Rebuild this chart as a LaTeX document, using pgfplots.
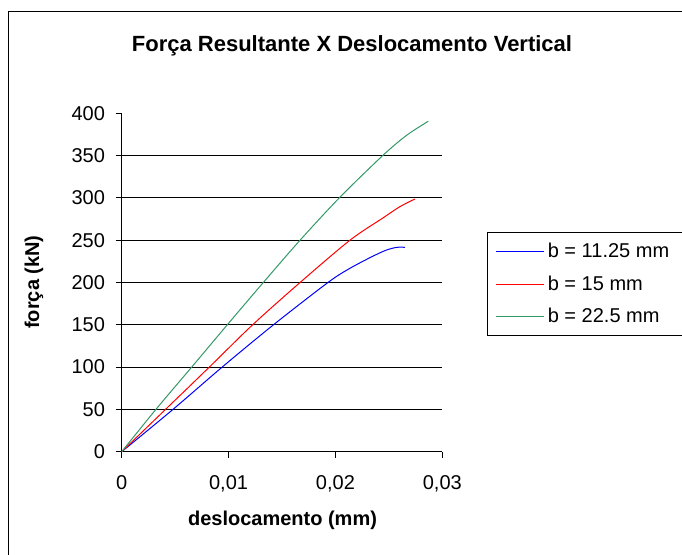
\documentclass[border=0pt]{standalone}
\usepackage{pgfplots}
\pgfplotsset{compat=1.18}
\usepackage{fontspec}
\setmainfont{Liberation Sans}
\definecolor{sgreen}{RGB}{51,153,102}
\definecolor{lblue}{RGB}{0,0,255}
\begin{document}
\begin{tikzpicture}
\useasboundingbox (0,0) rectangle (511.5pt,415.5pt);
\draw[line width=1pt] (6.5pt,-5pt) -- (6.5pt,406.9pt) -- (520pt,406.9pt);
\node[font=\bfseries\fontsize{16.5}{19}\selectfont] at (264pt,381pt) {Força Resultante X Deslocamento Vertical};
\begin{axis}[
  at={(91.28pt,76.73pt)}, anchor=south west,
  scale only axis, width=240.45pt, height=253.8pt,
  xmin=0, xmax=0.03, ymin=0, ymax=400,
  axis x line=bottom, axis y line=left,
  axis line style={-, line width=0.75pt, black},
  scaled x ticks=false,
  /pgf/number format/assume math mode=true,
  xtick={0,0.01,0.02,0.03}, xticklabels={0,{0,01},{0,02},{0,03}},
  ytick={0,50,...,400},
  extra y ticks={50,100,...,350}, extra y tick labels={},
  extra y tick style={grid=major, major tick length=0pt},
  major grid style={black, line width=0.75pt},
  tick align=outside, major tick length=4.5pt,
  tick style={black, line width=0.75pt},
  ticklabel style={font=\fontsize{15}{18}\selectfont},
  xticklabel style={yshift=-10pt},
  yticklabel style={xshift=-4.5pt},
  xlabel={deslocamento (mm)}, ylabel={força (kN)},
  label style={font=\bfseries\fontsize{15}{18}\selectfont},
  xlabel style={at={(axis description cs:0.5016,-0.2018)}, anchor=center},
  ylabel style={at={(axis description cs:-0.2737,0.5015)}, anchor=center},
  legend style={at={(axis description cs:1.1404,0.6483)}, anchor=north west,
    line width=0.75pt, font=\fontsize{15}{18}\selectfont,
    row sep=8pt, inner xsep=6pt, inner ysep=6pt},
  legend cell align=left,
  legend image code/.code={\draw[#1] (0pt,0pt) -- (36pt,0pt);},
]
\addlegendimage{draw=lblue, line width=1pt}
\addlegendentry{\makebox[150pt][l]{b = 11.25 mm}}
\addlegendimage{draw=red, line width=1pt}
\addlegendentry{\makebox[150pt][l]{b = 15 mm}}
\addlegendimage{draw=sgreen, line width=1pt}
\addlegendentry{\makebox[150pt][l]{b = 22.5 mm}}
\addplot[lblue, line width=0.75pt, smooth, forget plot] coordinates {
(0,0) (0.0048,50) (0.0094,100) (0.0142,150) (0.0193,200) (0.02136,216.8) (0.02354,231.3) (0.02479,238.4) (0.02572,241.5) (0.0265,241.6)};
\addplot[red, line width=0.75pt, smooth, forget plot] coordinates {
(0,0) (0.0041,50) (0.0082,100) (0.01225,150) (0.01669,200) (0.02136,250) (0.02447,276.5) (0.02603,289.6) (0.02744,298.7)};
\addplot[sgreen, line width=0.75pt, smooth, forget plot] coordinates {
(0,0) (0.0032,50) (0.00655,100) (0.00988,150) (0.01325,200) (0.01669,250) (0.02036,300) (0.02442,350) (0.02666,374) (0.02869,390.6)};
\end{axis}
\end{tikzpicture}
\end{document}
